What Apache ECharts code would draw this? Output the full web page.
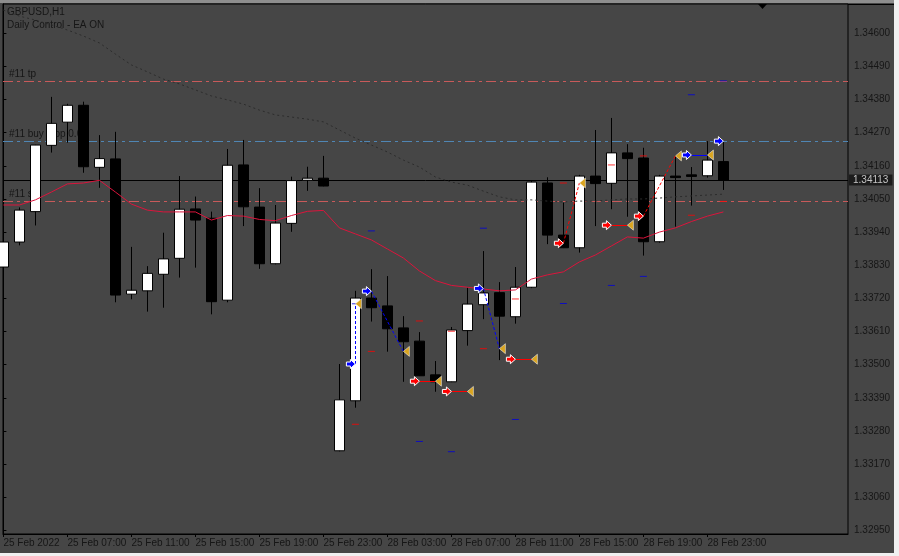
<!DOCTYPE html>
<html>
<head>
<meta charset="utf-8">
<title>GBPUSD,H1</title>
<script src="https://cdn.jsdelivr.net/npm/echarts@6/dist/echarts.min.js"></script>
<style>
html, body { margin: 0; padding: 0; background: #f0f0f0; }
#main { width: 899px; height: 556px; }
</style>
</head>
<body>
<div id="main"></div>
<script>
// GBPUSD H1, bars 0..45 = 25 Feb 03:00 .. 01 Mar 00:00
// [open, close, low, high]
var candles = [
	[1.33824, 1.33907, 1.33771, 1.33914],
	[1.33907, 1.34013, 1.33896, 1.34022],
	[1.34008, 1.34229, 1.33962, 1.34230],
	[1.34228, 1.34301, 1.34204, 1.34389],
	[1.34305, 1.34361, 1.34237, 1.34366],
	[1.34361, 1.34157, 1.34137, 1.34373],
	[1.34155, 1.34184, 1.34087, 1.34262],
	[1.34183, 1.33731, 1.33707, 1.34273],
	[1.33734, 1.33747, 1.33717, 1.33891],
	[1.33745, 1.33803, 1.33676, 1.33827],
	[1.33800, 1.33851, 1.33689, 1.33938],
	[1.33853, 1.34016, 1.33789, 1.34126],
	[1.34017, 1.33980, 1.33822, 1.34058],
	[1.33986, 1.33709, 1.33667, 1.34008],
	[1.33714, 1.34162, 1.33707, 1.34216],
	[1.34163, 1.34024, 1.33960, 1.34246],
	[1.34023, 1.33835, 1.33818, 1.34086],
	[1.33835, 1.33970, 1.33833, 1.34030],
	[1.33969, 1.34111, 1.33941, 1.34124],
	[1.34112, 1.34119, 1.34077, 1.34157],
	[1.34119, 1.34093, 1.34092, 1.34193],
	[1.33214, 1.33383, 1.33212, 1.33502],
	[1.33380, 1.33721, 1.33357, 1.33745],
	[1.33721, 1.33689, 1.33643, 1.33817],
	[1.33695, 1.33619, 1.33543, 1.33794],
	[1.33622, 1.33576, 1.33443, 1.33661],
	[1.33578, 1.33463, 1.33462, 1.33608],
	[1.33466, 1.33443, 1.33410, 1.33512],
	[1.33443, 1.33615, 1.33442, 1.33625],
	[1.33613, 1.33701, 1.33563, 1.33755],
	[1.33699, 1.33738, 1.33651, 1.33877],
	[1.33739, 1.33661, 1.33515, 1.33774],
	[1.33659, 1.33757, 1.33636, 1.33824],
	[1.33757, 1.34106, 1.33754, 1.34110],
	[1.34103, 1.33930, 1.33900, 1.34122],
	[1.33930, 1.33888, 1.33887, 1.34038],
	[1.33888, 1.34126, 1.33872, 1.34130],
	[1.34126, 1.34101, 1.33960, 1.34279],
	[1.34102, 1.34203, 1.34016, 1.34319],
	[1.34203, 1.34184, 1.33991, 1.34232],
	[1.34186, 1.33908, 1.33862, 1.34220],
	[1.33908, 1.34126, 1.33905, 1.34130],
	[1.34126, 1.34121, 1.33958, 1.34195],
	[1.34130, 1.34125, 1.34028, 1.34156],
	[1.34127, 1.34179, 1.34121, 1.34242],
	[1.34174, 1.34113, 1.34080, 1.34239]
];

// crimson moving average
var maFast = [
	1.34030, 1.34030, 1.34047, 1.34073, 1.34100, 1.34103, 1.34112, 1.34073,
	1.34033, 1.34013, 1.34007, 1.34007, 1.34007, 1.33980, 1.33995, 1.33993,
	1.33982, 1.33978, 1.33995, 1.34009, 1.34012, 1.33954, 1.33934, 1.33914,
	1.33884, 1.33854, 1.33811, 1.33779, 1.33763, 1.33757, 1.33751, 1.33745,
	1.33748, 1.33784, 1.33798, 1.33808, 1.33841, 1.33864, 1.33894, 1.33924,
	1.33920, 1.33940, 1.33954, 1.33975, 1.33993, 1.34007
];

// dark dotted line (daily control)
var maSlow = [
	1.34677, 1.34657, 1.34644, 1.34628, 1.34611, 1.34591, 1.34568, 1.34531,
	1.34495, 1.34472, 1.34448, 1.34432, 1.34412, 1.34392, 1.34379, 1.34365,
	1.34345, 1.34329, 1.34322, 1.34315, 1.34306, 1.34279, 1.34252, 1.34229,
	1.34206, 1.34179, 1.34156, 1.34123, 1.34106, 1.34096, 1.34076, 1.34057,
	1.34047, 1.34047, 1.34043, 1.34040, 1.34043, 1.34043, 1.34047, 1.34050,
	1.34050, 1.34053, 1.34057, 1.34060, 1.34063, 1.34066
];

// closed trades: [side, openBar, openPrice, closeBar, closePrice]
var trades = [
	['buy', 22, 1.33502, 22, 1.33702],
	['buy', 23, 1.33744, 25, 1.33544],
	['sell', 26, 1.33445, 27, 1.33445],
	['sell', 28, 1.33411, 29, 1.33411],
	['buy', 30, 1.33753, 31, 1.33553],
	['sell', 32, 1.33518, 33, 1.33518],
	['sell', 35, 1.33903, 36, 1.34103],
	['sell', 38, 1.33963, 39, 1.33963],
	['sell', 40, 1.33993, 42, 1.34193],
	['buy', 43, 1.34196, 44, 1.34196]
];
var openBuy = [[45, 1.34242]];

// take profit / stop loss marks [bar, price]
var tpMarks = [
	[22, 1.33702], [23, 1.33944], [26, 1.33245], [28, 1.33211], [30, 1.33953], [32, 1.33318],
	[35, 1.33703], [38, 1.33763], [40, 1.33793], [43, 1.34396], [45, 1.34442]
];
var slMarks = [
	[22, 1.33302], [23, 1.33544], [26, 1.33645], [28, 1.33611], [30, 1.33553], [32, 1.33718],
	[35, 1.34103], [38, 1.34163], [40, 1.34193], [43, 1.33996], [45, 1.34042]
];

// pending order #11 levels and current bid
var orderLevels = [
	['#11 tp', 1.34442, '#c85a5a'],
	['#11 buy stop 0.01', 1.34242, '#4f86b4'],
	['#11 sl', 1.34042, '#c85a5a']
];
var bidPrice = 1.34113;

var timeTicks = [0, 4, 8, 12, 16, 20, 24, 28, 32, 36, 40, 44];
var timeLabels = ['25 Feb 2022', '25 Feb 07:00', '25 Feb 11:00', '25 Feb 15:00', '25 Feb 19:00', '25 Feb 23:00',
	'28 Feb 03:00', '28 Feb 07:00', '28 Feb 11:00', '28 Feb 15:00', '28 Feb 19:00', '28 Feb 23:00'];
var priceTicks = [1.32950, 1.33060, 1.33170, 1.33280, 1.33390, 1.33500, 1.33610, 1.33720,
	1.33830, 1.33940, 1.34050, 1.34160, 1.34270, 1.34380, 1.34490, 1.34600];

var FONT = "'Liberation Sans', Arial, sans-serif";
var TXT = '#161616';
var ARROW = 'path://M0,2.5L4,2.5L4,0L9,4.5L4,9L4,6.5L0,6.5Z';
var EXIT = 'path://M6,0L0,5L6,10Z';

var candleData = candles.map(function (c, i) { return [i, c[0], c[1], c[2], c[3]]; });
var fastData = maFast.map(function (v, i) { return [i, v]; });
var slowData = maSlow.map(function (v, i) { return [i, v]; });

var buyIn = [], sellIn = [], outs = [], tradeLines = [];
trades.forEach(function (t) {
	(t[0] === 'buy' ? buyIn : sellIn).push([t[1], t[2]]);
	outs.push([t[3], t[4]]);
	tradeLines.push({
		coords: [[t[1], t[2]], [t[3], t[4]]],
		lineStyle: {
			color: t[0] === 'buy' ? '#0000ff' : '#ff0000',
			type: t[2] === t[4] ? 'solid' : [3, 2]
		}
	});
});
openBuy.forEach(function (p) { buyIn.push(p); });

// one hidden helper series per horizontal level, under the candles
function levelSeries(value, color, type, label) {
	return {
		type: 'line',
		z: 1,
		data: [[0, value]],
		showSymbol: false,
		silent: true,
		lineStyle: { opacity: 0 },
		markLine: {
			z: 1,
			silent: true,
			precision: 5,
			symbol: ['none', 'none'],
			lineStyle: { color: color, type: type, width: 1, opacity: 1 },
			label: label,
			emphasis: { disabled: true },
			data: [{ yAxis: value }]
		}
	};
}

var series = [];
orderLevels.forEach(function (lv) {
	series.push(levelSeries(lv[1], lv[2], [10, 4, 3, 4], {
		show: true, formatter: lv[0], position: 'insideStartTop', distance: [6, 2],
		color: TXT, fontSize: 10, fontFamily: FONT
	}));
});
series.push(levelSeries(bidPrice, '#000000', 'solid', {
	show: true, position: 'end', distance: 1, formatter: bidPrice.toFixed(5),
	backgroundColor: '#1c1c1c', color: '#c4c4c4', padding: [1, 4, 0, 4],
	fontSize: 10, fontFamily: FONT
}));

series.push(
	{
		type: 'candlestick',
		z: 2,
		barWidth: 10,
		data: candleData,
		itemStyle: {
			color: '#ffffff', color0: '#000000',
			borderColor: '#000000', borderColor0: '#000000', borderColorDoji: '#000000',
			borderWidth: 1
		}
	},
	{
		type: 'line', z: 3, data: fastData, showSymbol: false,
		lineStyle: { color: '#dc143c', width: 1 }
	},
	{
		type: 'line', z: 3, data: slowData, showSymbol: false,
		lineStyle: { color: '#2c2c2c', width: 1, type: [2, 3] }
	},
	{
		type: 'lines', coordinateSystem: 'cartesian2d', z: 4,
		data: tradeLines, lineStyle: { width: 1, opacity: 1 }
	},
	{
		type: 'scatter', z: 4, data: tpMarks, symbol: 'rect', symbolSize: [7, 1],
		itemStyle: { color: '#0000dc' }
	},
	{
		type: 'scatter', z: 4, data: slMarks, symbol: 'rect', symbolSize: [7, 1],
		itemStyle: { color: '#ff0000' }
	},
	{
		type: 'scatter', z: 5, data: outs, symbol: EXIT, symbolSize: [6, 10], symbolOffset: [3, 0],
		itemStyle: { color: '#daa520', borderColor: '#ffffff', borderWidth: 0.5, opacity: 1 }
	},
	{
		type: 'scatter', z: 5, data: buyIn, symbol: ARROW, symbolSize: [9, 9], symbolOffset: [-4.5, 0],
		itemStyle: { color: '#0000ff', borderColor: '#ffffff', borderWidth: 1, opacity: 1 }
	},
	{
		type: 'scatter', z: 5, data: sellIn, symbol: ARROW, symbolSize: [9, 9], symbolOffset: [-4.5, 0],
		itemStyle: { color: '#ff0000', borderColor: '#ffffff', borderWidth: 1, opacity: 1 }
	}
);

var chart = echarts.init(document.getElementById('main'));
chart.setOption({
	animation: false,
	backgroundColor: '#464646',
	grid: {
		left: 3, right: 51, top: 4, bottom: 22,
		show: true, borderColor: '#000', borderWidth: 1, backgroundColor: 'transparent'
	},
	xAxis: {
		type: 'value',
		min: -0.025, max: 52.7875,
		splitLine: { show: false },
		axisLine: { show: true, lineStyle: { color: '#000' } },
		axisTick: { show: true, length: 3, customValues: timeTicks, lineStyle: { color: '#000' } },
		axisLabel: {
			customValues: timeTicks,
			formatter: function (v) { return timeLabels[timeTicks.indexOf(Math.round(v))] || ''; },
			align: 'left', margin: 4, color: TXT, fontSize: 10, fontFamily: FONT
		}
	},
	yAxis: {
		type: 'value',
		position: 'right',
		min: 1.329377, max: 1.346973,
		scale: true,
		splitLine: { show: false },
		axisLine: { show: true, lineStyle: { color: '#000' } },
		axisTick: { show: true, length: 3, customValues: priceTicks, lineStyle: { color: '#000' } },
		axisLabel: {
			customValues: priceTicks,
			formatter: function (v) { return v.toFixed(5); },
			margin: 6, color: TXT, fontSize: 10, fontFamily: FONT
		}
	},
	series: series,
	graphic: [
		{ type: 'rect', silent: true, shape: { x: 0, y: 0, width: 899, height: 3 }, style: { fill: '#8e8e8e' } },
		{ type: 'line', silent: true, shape: { x1: 848, y1: 4.5, x2: 894, y2: 4.5 }, style: { stroke: '#000', lineWidth: 1 } },
		{ type: 'rect', silent: true, shape: { x: 894, y: 0, width: 5, height: 556 }, style: { fill: '#f0f0f0' } },
		{ type: 'rect', silent: true, shape: { x: 0, y: 553, width: 899, height: 3 }, style: { fill: '#f0f0f0' } },
		{ type: 'polygon', silent: true, shape: { points: [[758, 4], [767, 4], [762.5, 9]] }, style: { fill: '#000' } },
		{
			type: 'text', silent: true, x: 7, y: 12.5,
			style: { text: 'GBPUSD,H1', fill: TXT, font: '10px ' + FONT, textVerticalAlign: 'middle' }
		},
		{
			type: 'text', silent: true, x: 7, y: 25.5,
			style: { text: 'Daily Control - EA ON', fill: TXT, font: '10px ' + FONT, textVerticalAlign: 'middle' }
		}
	]
});
</script>
</body>
</html>
